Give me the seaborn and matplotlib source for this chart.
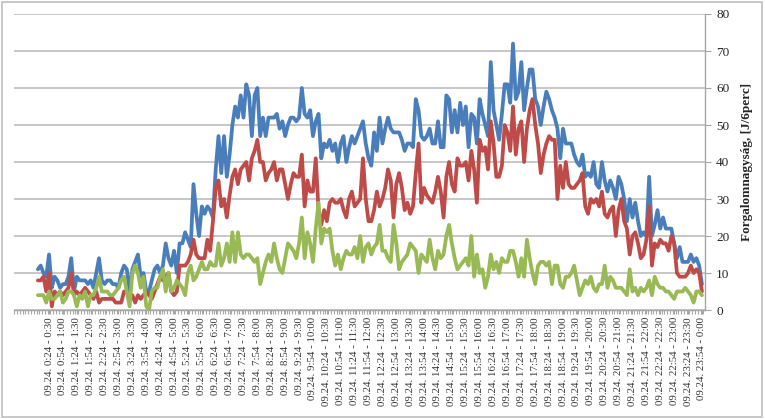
import numpy as np
import pandas as pd
import matplotlib
matplotlib.use("Agg")
import matplotlib.pyplot as plt
import seaborn as sns
from matplotlib.patches import Rectangle

# Forgalomnagyság 6 perces bontásban (09.24., 0:00 - 24:00)
kek = [11, 12, 10, 9, 15, 6, 9, 8, 6, 7,
       7, 9, 14, 5, 9, 8, 8, 8, 7, 8,
       6, 10, 14, 8, 7, 8, 8, 7, 7, 6,
       10, 12, 11, 5, 11, 13, 15, 9, 10, 5,
       5, 8, 11, 12, 10, 12, 18, 14, 12, 16,
       10, 18, 18, 21, 19, 17, 34, 26, 20, 28,
       26, 28, 27, 25, 38, 47, 37, 47, 36, 42,
       50, 55, 52, 58, 52, 61, 58, 47, 58, 60,
       47, 52, 47, 52, 52, 52, 53, 49, 51, 47,
       50, 52, 52, 51, 52, 60, 53, 52, 54, 47,
       51, 53, 41, 45, 44, 46, 43, 45, 40, 45,
       47, 40, 44, 47, 45, 47, 49, 51, 45, 41,
       39, 48, 43, 52, 45, 49, 52, 49, 48, 48,
       48, 46, 43, 45, 45, 44, 57, 54, 47, 46,
       47, 49, 45, 45, 51, 44, 44, 58, 57, 48,
       54, 48, 56, 50, 55, 44, 53, 52, 45, 57,
       53, 50, 47, 67, 54, 50, 46, 53, 61, 61,
       56, 72, 57, 59, 67, 54, 60, 65, 65, 57,
       55, 50, 55, 59, 57, 54, 52, 49, 41, 49,
       45, 45, 45, 42, 40, 39, 42, 36, 37, 36,
       40, 34, 33, 40, 35, 32, 35, 33, 30, 36,
       34, 30, 24, 30, 25, 29, 24, 20, 21, 20,
       36, 20, 23, 27, 22, 25, 22, 22, 22, 18,
       14, 17, 13, 13, 13, 15, 13, 14, 12, 7]

piros = [8, 8, 9, 5, 10, 1, 5, 4, 5, 4,
         5, 6, 10, 4, 5, 4, 5, 6, 5, 4,
         3, 5, 2, 3, 3, 3, 3, 3, 2, 2,
         2, 5, 5, 3, 4, 2, 4, 3, 4, 5,
         4, 3, 5, 7, 9, 8, 9, 10, 5, 4,
         5, 12, 12, 12, 13, 15, 19, 15, 14, 14,
         14, 19, 16, 24, 33, 35, 28, 30, 25, 31,
         36, 38, 34, 38, 39, 40, 35, 41, 43, 46,
         40, 40, 35, 37, 38, 40, 35, 38, 38, 34,
         30, 34, 37, 36, 36, 42, 28, 35, 32, 32,
         41, 27, 23, 27, 24, 29, 30, 29, 29, 30,
         27, 25, 30, 32, 28, 29, 30, 41, 30, 24,
         24, 27, 32, 28, 30, 33, 38, 35, 25, 34,
         37, 33, 27, 29, 26, 28, 37, 45, 29, 33,
         31, 30, 29, 32, 36, 32, 25, 36, 40, 34,
         32, 41, 39, 39, 40, 35, 43, 38, 29, 46,
         43, 44, 38, 51, 45, 36, 36, 39, 50, 48,
         43, 55, 42, 49, 51, 40, 49, 54, 57, 50,
         45, 37, 42, 45, 47, 46, 46, 30, 39, 33,
         40, 34, 33, 33, 34, 35, 37, 28, 26, 30,
         29, 30, 28, 32, 26, 25, 27, 28, 20, 27,
         30, 24, 22, 15, 20, 21, 18, 14, 15, 19,
         28, 12, 18, 17, 19, 18, 18, 16, 20, 18,
         10, 9, 9, 9, 10, 12, 10, 11, 10, 5]

zold = [4, 4, 4, 2, 5, 3, 3, 4, 5, 2,
        3, 5, 5, 4, 1, 4, 3, 5, 1, 4,
        4, 6, 9, 5, 5, 5, 4, 4, 5, 6,
        8, 9, 5, 1, 10, 12, 10, 6, 9, 1,
        0, 5, 6, 6, 9, 11, 5, 10, 5, 6,
        8, 7, 6, 4, 10, 12, 8, 9, 11, 13,
        11, 11, 13, 12, 12, 18, 12, 14, 18, 13,
        21, 13, 21, 15, 14, 15, 15, 14, 13, 14,
        7, 10, 13, 15, 13, 18, 14, 11, 10, 14,
        18, 17, 16, 14, 18, 25, 14, 21, 18, 13,
        22, 29, 18, 22, 21, 22, 16, 12, 15, 11,
        14, 16, 15, 15, 17, 14, 20, 13, 17, 18,
        15, 17, 18, 23, 16, 16, 14, 13, 23, 18,
        11, 13, 14, 15, 18, 17, 16, 10, 15, 14,
        13, 19, 14, 11, 16, 14, 15, 20, 23, 18,
        14, 11, 12, 13, 14, 12, 20, 9, 15, 10,
        11, 6, 9, 15, 11, 13, 10, 14, 13, 13,
        16, 16, 13, 9, 14, 9, 19, 14, 10, 7,
        12, 13, 13, 12, 13, 7, 12, 12, 7, 6,
        9, 9, 10, 12, 8, 4, 6, 8, 7, 9,
        6, 5, 7, 7, 12, 6, 9, 8, 6, 6,
        6, 5, 4, 11, 5, 6, 4, 6, 5, 6,
        8, 4, 9, 7, 6, 6, 5, 5, 4, 3,
        5, 5, 5, 6, 5, 4, 2, 5, 5, 4]

# minden 5. időszak felirata (a 4. indextől)
idoszak_feliratok = [
    "09.24. 0:24 - 0:30", "09.24. 0:54 - 1:00", "09.24. 1:24 - 1:30", "09.24. 1:54 - 2:00",
    "09.24. 2:24 - 2:30", "09.24. 2:54 - 3:00", "09.24. 3:24 - 3:30", "09.24. 3:54 - 4:00",
    "09.24. 4:24 - 4:30", "09.24. 4:54 - 5:00", "09.24. 5:24 - 5:30", "09.24. 5:54 - 6:00",
    "09.24. 6:24 - 6:30", "09.24. 6:54 - 7:00", "09.24. 7:24 - 7:30", "09.24. 7:54 - 8:00",
    "09.24. 8:24 - 8:30", "09.24. 8:54 - 9:00", "09.24. 9:24 - 9:30", "09.24. 9:54 - 10:00",
    "09.24. 10:24 - 10:30", "09.24. 10:54 - 11:00", "09.24. 11:24 - 11:30", "09.24. 11:54 - 12:00",
    "09.24. 12:24 - 12:30", "09.24. 12:54 - 13:00", "09.24. 13:24 - 13:30", "09.24. 13:54 - 14:00",
    "09.24. 14:24 - 14:30", "09.24. 14:54 - 15:00", "09.24. 15:24 - 15:30", "09.24. 15:54 - 16:00",
    "09.24. 16:24 - 16:30", "09.24. 16:54 - 17:00", "09.24. 17:24 - 17:30", "09.24. 17:54 - 18:00",
    "09.24. 18:24 - 18:30", "09.24. 18:54 - 19:00", "09.24. 19:24 - 19:30", "09.24. 19:54 - 20:00",
    "09.24. 20:24 - 20:30", "09.24. 20:54 - 21:00", "09.24. 21:24 - 21:30", "09.24. 21:54 - 22:00",
    "09.24. 22:24 - 22:30", "09.24. 22:54 - 23:00", "09.24. 23:24 - 23:30", "09.24. 23:54 - 0:00",
]

sorozatok = ["kek", "piros", "zold"]
szinek = ["#4A7EBB", "#BE4B48", "#98B954"]

n = len(kek)
df = pd.DataFrame({
    "idx": list(range(n)) * 3,
    "ertek": kek + piros + zold,
    "sorozat": ["kek"] * n + ["piros"] * n + ["zold"] * n,
})

sns.set_style("white")
plt.rcParams["font.family"] = ["Liberation Serif", "DejaVu Serif"]

fig = plt.figure(figsize=(7.65, 4.19), dpi=100)
ax = fig.add_axes([14 / 765, 1 - 310 / 419, 691 / 765, 296 / 419])

sns.lineplot(data=df, x="idx", y="ertek", hue="sorozat", hue_order=sorozatok,
             palette=szinek, linewidth=2.7, legend=False, ax=ax)

ax.set_xlim(-8.6, 240.1)
ax.set_ylim(0, 80)
ax.set_yticks(range(0, 81, 10))
ax.yaxis.tick_right()
ax.yaxis.set_label_position("right")
ax.set_ylabel("Forgalomnagyság, [J/6perc]", fontsize=9.5, fontweight="bold", labelpad=8)
ax.set_xlabel("")

ax.grid(axis="y", color="#BEBEBE", linewidth=1.2)
ax.grid(axis="x", visible=False)
ax.set_axisbelow(True)

ax.set_xticks(range(4, n, 5))
ax.set_xticklabels(idoszak_feliratok, rotation=90, fontsize=7.8, va="top", ha="center",
                   color="#333333")
ax.set_xticks(np.arange(-8.5, 240, 1), minor=True)
ax.tick_params(axis="x", which="both", length=3, color="#A6A6A6", width=0.8, pad=2,
               bottom=True)
ax.tick_params(axis="y", length=4, color="#A6A6A6", width=0.8, labelsize=9.5, pad=4, right=True)

for s in ["top", "left"]:
    ax.spines[s].set_visible(False)
for s in ["right", "bottom"]:
    ax.spines[s].set_color("#A6A6A6")
    ax.spines[s].set_linewidth(1.0)

fig.patches.append(Rectangle((0.002, 0.004), 0.994, 0.992, transform=fig.transFigure,
                             fill=False, edgecolor="#BFBFBF", linewidth=1.2))

fig.savefig("out.png", dpi=100)
